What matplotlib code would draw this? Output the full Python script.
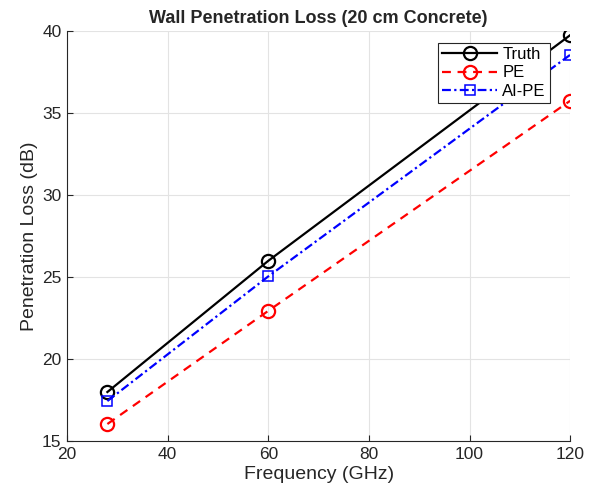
import matplotlib.pyplot as plt

plt.rcParams['font.family'] = ['Liberation Sans', 'DejaVu Sans']

freq = [28, 60, 120]
truth = [18.0, 26.0, 39.75]
pe = [16.05, 22.95, 35.75]
aipe = [17.45, 25.05, 38.55]

fig = plt.figure(figsize=(5.89, 4.93), dpi=100)
ax = fig.add_axes([0.114, 0.105, 0.854, 0.832])

ax.plot(freq, truth, color='black', lw=1.6, marker='o', ms=9.5, mfc='none', mew=1.6, label='Truth')
ax.plot(freq, pe, color='red', lw=1.6, ls=(0, (4, 3)), marker='o', ms=9.5, mfc='none', mew=1.6, label='PE')
ax.plot(freq, aipe, color='blue', lw=1.6, ls=(0, (4, 1.5, 1, 1.5)), marker='s', ms=7, mfc='none', mew=1.1, label='AI-PE')

ax.set_xlim(20, 120)
ax.set_ylim(15, 40)
ax.set_xticks([20, 40, 60, 80, 100, 120])
ax.set_yticks([15, 20, 25, 30, 35, 40])
ax.grid(True, color='#e3e3e3', lw=0.8)
ax.set_axisbelow(True)
for s in ['top', 'right']:
    ax.spines[s].set_visible(False)
for s in ['left', 'bottom']:
    ax.spines[s].set_color('#262626')
ax.tick_params(direction='in', labelsize=12.5, colors='#262626', length=4, pad=4)
ax.set_xlabel('Frequency (GHz)', fontsize=14, color='#262626', labelpad=3)
ax.set_ylabel('Penetration Loss (dB)', fontsize=14, color='#262626', labelpad=3)
ax.set_title('Wall Penetration Loss (20 cm Concrete)', fontsize=13, fontweight='bold', color='#262626', pad=6)

leg = ax.legend(loc='upper right', bbox_to_anchor=(0.96, 0.971), fontsize=12, fancybox=False,
                edgecolor='#262626', framealpha=1, handlelength=3.3, borderpad=0.25,
                labelspacing=0.2, handletextpad=0.3, borderaxespad=0)
leg.get_frame().set_linewidth(0.8)

fig.savefig('out.png', dpi=100)
